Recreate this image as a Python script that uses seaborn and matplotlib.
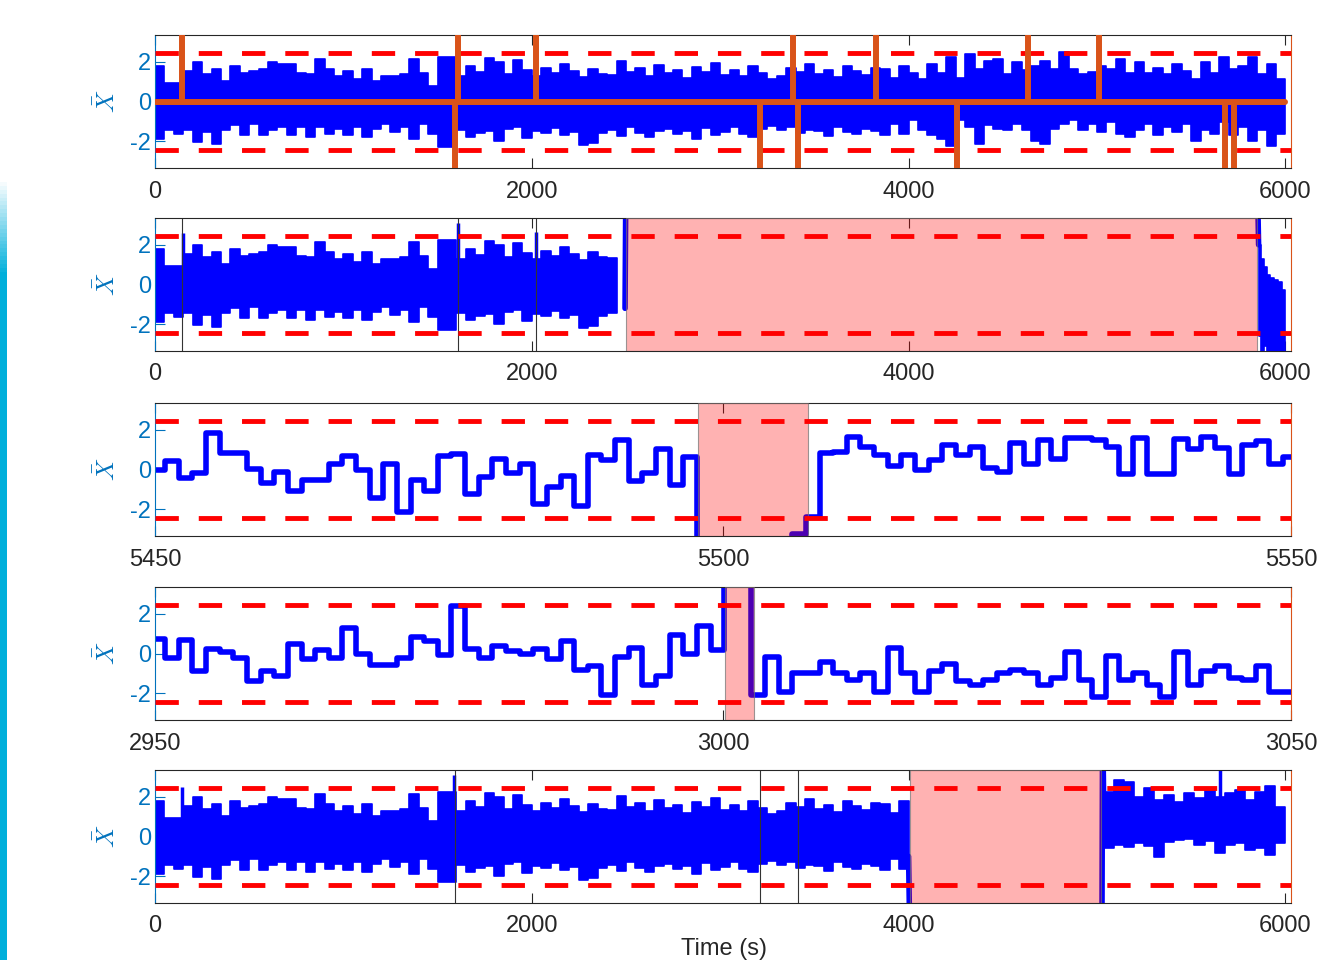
import numpy as np
import matplotlib
matplotlib.use("Agg")
import matplotlib.pyplot as plt
import seaborn as sns

sns.set_theme(style="white")
plt.rcParams["font.family"] = ["Liberation Sans", "DejaVu Sans"]
plt.rcParams["mathtext.fontset"] = "cm"
plt.rcParams["axes.unicode_minus"] = False

BLUE = "#0000FF"
ORANGE = "#D95319"
AXBLUE = "#0072BD"
DARK = "#262626"

# control limits of the monitoring statistic
UCL, LCL = 2.43, -2.43

# ---- long-run statistic (0-6000 s), upper / lower envelope per 50 s bin ----
BIN = 50
env_upper = [
    1.8, 0.94, 0.94, 1.54, 1.97, 1.37, 1.63, 1.03, 1.8, 1.46, 1.54, 1.63, 1.97, 1.88, 1.88, 1.46,
    1.37, 2.14, 1.63, 1.28, 1.54, 1.11, 1.63, 1.03, 1.28, 1.28, 1.37, 2.14, 1.46, 0.77, 2.23, 2.23,
    1.27, 1.78, 1.5, 2.2, 2.0, 1.4, 2.1, 1.6, 1.3, 1.7, 1.45, 1.9, 1.55, 1.25, 1.65, 1.4, 1.35, 2.05,
    1.5, 1.7, 1.3, 1.85, 1.45, 1.6, 1.2, 1.75, 1.5, 1.95, 1.35, 1.6, 1.3, 1.8, 1.45, 1.15, 1.27, 1.7,
    1.5, 1.9, 1.4, 1.6, 1.25, 1.8, 1.55, 1.35, 1.7,
    1.63, 1.2, 1.8, 1.46, 1.11, 1.88, 1.46, 2.23, 1.2, 2.4, 1.63, 2.06, 2.14, 1.37, 1.97, 1.6, 1.8,
    2.06, 1.63, 2.48, 1.63, 1.37, 1.5, 1.8, 1.63, 2.14, 1.46, 1.97, 1.46, 1.71, 1.37, 1.88, 1.54,
    1.11, 1.97, 1.46, 2.23, 1.63, 1.8, 2.23, 1.37, 1.88, 1.11,
]
env_lower = [
    -1.88, -1.46, -1.63, -1.46, -2.05, -1.54, -2.14, -1.46, -1.2, -1.71, -1.11, -1.71, -1.46, -1.28,
    -1.71, -1.28, -1.8, -1.28, -1.63, -1.37, -1.71, -1.28, -1.8, -1.37, -1.11, -1.54, -1.28, -1.88,
    -1.11, -1.63, -2.3, -2.3,
    -1.46, -1.8, -1.6, -1.5, -1.97, -1.4, -1.3, -1.85, -1.5, -1.6, -1.35, -1.7, -1.55, -2.2, -2.1,
    -1.6, -1.45, -1.75, -1.3, -1.6, -1.8, -1.5, -1.4, -1.65, -1.5, -1.9, -1.35, -1.7, -1.55, -1.3,
    -1.65, -1.8, -1.4, -1.25, -1.46, -1.3, -1.6, -1.45, -1.5, -1.75, -1.3, -1.55, -1.65, -1.4, -1.5,
    -1.71, -1.11, -1.63, -0.94, -1.46, -1.71, -1.88, -2.23, -0.94, -1.28, -2.14, -1.2, -1.37, -1.46,
    -1.11, -1.46, -1.97, -2.14, -1.37, -1.11, -0.94, -1.46, -1.11, -1.54, -1.03, -1.63, -1.8, -1.46,
    -1.11, -1.71, -1.28, -1.54, -1.11, -1.97, -1.46, -1.63, -1.03, -1.71, -1.28, -1.97, -1.46, -2.23,
    -1.63,
]

# ---- panel 1: detection flags (up / down) over the full record ----
flag_up_t = [143, 1608, 2025, 3385, 3828, 4635, 5010]
flag_down_t = [1595, 3210, 3415, 4255, 5680, 5725]

# ---- panel 2: attack from 2500 s to 5852 s ----
p2_marks = [143, 1608, 2025]
p2_spike_t = [148, 1610, 2022]
p2_spike_v = [2.6, 3.1, 2.65]
p2_attack = (2498, 5852)
p2_jump_t = [2495, 2500]
p2_jump_v = [-1.2, 6.0]
p2_return_t = [5850, 5858]
p2_return_v = [6.0, 2.0]
p2_tail_edges = [5858, 5870, 5885, 5900, 5920, 5940, 5960, 5980, 6000]
p2_tail_upper = [2.0, 1.3, 0.9, 0.5, 0.35, 0.25, 0.15, -0.3]
p2_tail_lower = [-2.6, -3.6, -3.1, -3.6, -3.5, -3.8, -3.4, -3.6]

# ---- panel 3: close-up 5450-5550 s, one sample every 1.2 s ----
p3_t0, STEP = 5449.7, 1.2
p3_vals = [
    0.0, 0.42, -0.42, -0.2, 1.83, 0.85, 0.85, 0.04, -0.7, -0.13, -1.07, -0.55, -0.52, 0.3, 0.67,
    0.0, -1.46, 0.26, -2.13, -0.52, -1.07, 0.67, 0.77, -1.24, -0.38, 0.52, -0.2, 0.3, -1.75, -0.9,
    -0.35, -1.83, 0.73, 0.47, 1.49, -0.59, -0.16, 1.02, -0.76, 0.64,
    -6.0, -6.0, -6.0, -6.0, -6.0, -6.0, -4.5, -3.25, -2.4,
    0.81, 0.9, 1.66, 1.12, 0.73, 0.16, 0.73, 0.0, 0.47, 1.24, 0.73, 1.15, 0.09, -0.13, 1.32, 0.26,
    1.49, 0.55, 1.58, 1.58, 1.49, 1.12, -0.21, 1.58, -0.25, -0.25, 1.53, 1.02, 1.66, 1.07, -0.21,
    1.24, 1.46, 0.3, 0.64, 0.64,
]
p3_attack = (5497.8, 5507.5)

# ---- panel 4: close-up 2950-3050 s ----
p4_t0 = 2949.7
p4_vals = [
    0.72, -0.21, 0.69, -0.9, 0.21, 0.08, -0.21, -1.41, -0.9, -1.12, 0.47, -0.3, 0.18, -0.21, 1.27,
    -0.04, -0.6, -0.6, -0.21, 0.84, 0.64, -0.09, 2.4, 0.21, -0.21, 0.38, 0.13, -0.04, 0.21, -0.3,
    0.64, -0.81, -0.64, -2.09, -0.18, 0.3, -1.58, -1.12, 0.93, -0.04, 1.41, 0.18,
    6.0, 6.0,
    -2.09, -0.16, -1.92, -0.98, -0.98, -0.44, -0.98, -1.32, -0.98, -1.92, 0.26, -0.98, -1.92, -0.9,
    -0.55, -1.41, -1.58, -1.32, -0.98, -0.84, -0.98, -1.58, -1.24, 0.06, -1.32, -2.2, -0.13, -1.32,
    -0.98, -1.58, -2.2, 0.06, -1.58, -0.9, -0.64, -1.24, -1.32, -0.64, -1.92, -1.92, -0.3,
]
p4_attack = (3000.2, 3002.7)

# ---- panel 5: attack from 4009 s to 5024 s, offset afterwards ----
p5_marks = [1590, 3210, 3415]
p5_spike_t = [145, 1585, 5655]
p5_spike_v = [2.5, 3.1, 4.0]
p5_attack = (4009, 5024)
p5_drop_t = [4000, 4008]
p5_drop_v = [-1.0, -6.0]
p5_rise_t = [5026, 5030, 5035]
p5_rise_v = [-6.0, 6.0, 2.26]
p5_after_upper = [2.26, 2.86, 2.77, 2.0, 2.43, 1.83, 2.09, 1.75, 2.18, 1.92, 2.35, 2.0, 2.18, 2.35,
                  1.83, 2.26, 2.52, 1.49]
p5_after_lower = [-0.6, -0.45, -0.55, -0.35, -0.5, -1.05, -0.3, -0.2, -0.15, -0.45, -0.25, -0.85,
                  -0.45, -0.35, -0.7, -0.6, -0.95, -0.35]

LONG_TICKS = [0, 2000, 4000, 6000]
LONG_LIM = (0, 6030)

edges_all = np.arange(0, len(env_upper) * BIN + 1, BIN)


def band(ax, edges, upper, lower):
    up = list(upper) + [upper[-1]]
    lo = list(lower) + [lower[-1]]
    ax.fill_between(edges, lo, up, step="post", color=BLUE, linewidth=1.2, zorder=2)


def trace(ax, t, v, **kw):
    sns.lineplot(x=t, y=v, ax=ax, color=BLUE, linewidth=4.0, estimator=None, sort=False,
                 legend=False, zorder=2, **kw)


def attack(ax, span):
    ax.axvspan(span[0], span[1], facecolor=(1, 0, 0, 0.3), edgecolor=(0.45, 0.45, 0.45, 0.7),
               linewidth=0.8, zorder=3)


def limits(ax):
    for lvl in (UCL, LCL):
        ax.axhline(lvl, color="red", linewidth=3.5, dashes=(4.8, 4.1), zorder=4)


def style(ax, xticks, xlim):
    ax.set_xlim(*xlim)
    ax.set_ylim(-3.35, 3.35)
    ax.set_xticks(xticks)
    ax.set_xticklabels([str(x) for x in xticks])
    ax.set_yticks([-2, 0, 2])
    ax.set_yticklabels(["-2", "0", "2"])
    ax.tick_params(axis="x", direction="in", length=7, width=0.8, top=True, bottom=True,
                   color=DARK, labelcolor=DARK, labelsize=17, pad=9)
    ax.tick_params(axis="y", direction="in", length=7, width=0.8, left=True, right=False,
                   color=AXBLUE, labelcolor=AXBLUE, labelsize=17, pad=3)
    for side in ("top", "bottom"):
        ax.spines[side].set_color(DARK)
        ax.spines[side].set_linewidth(0.8)
    ax.spines["left"].set_color(AXBLUE)
    ax.spines["right"].set_color(ORANGE)
    ax.spines["left"].set_linewidth(0.8)
    ax.spines["right"].set_linewidth(0.8)
    ax.set_xlabel("")
    ax.set_ylabel(r"$\bar{X}$", color=AXBLUE, fontsize=18)
    ax.yaxis.set_label_coords(-0.032, 0.5)
    ax.set_facecolor("white")


W, H = 1326, 960
fig = plt.figure(figsize=(W / 100, H / 100), dpi=100)
fig.patch.set_facecolor("white")

left_px, width_px = 155, 1136
tops_px = [35, 218, 403, 587, 770]
height_px = 133
axes = [fig.add_axes([left_px / W, 1 - (t + height_px) / H, width_px / W, height_px / H])
        for t in tops_px]

# panel 1: full record with detection flags
ax = axes[0]
band(ax, edges_all, env_upper, env_lower)
limits(ax)
sns.lineplot(x=[0, 6000], y=[0, 0], ax=ax, color=ORANGE, linewidth=4.3, zorder=5, legend=False)
ax.vlines(flag_up_t, 0, 4, color=ORANGE, linewidth=4.3, zorder=5)
ax.vlines(flag_down_t, -4, 0, color=ORANGE, linewidth=4.3, zorder=5)
style(ax, LONG_TICKS, LONG_LIM)

# panel 2
ax = axes[1]
n2 = int(p2_attack[0] // BIN)
band(ax, edges_all[:n2 + 1], env_upper[:n2], env_lower[:n2])
ax.vlines(p2_spike_t, 0, p2_spike_v, color=BLUE, linewidth=2.5, zorder=2)
trace(ax, p2_jump_t, p2_jump_v)
trace(ax, p2_return_t, p2_return_v)
band(ax, p2_tail_edges, p2_tail_upper, p2_tail_lower)
for t in p2_marks:
    ax.axvline(t, color="#333333", linewidth=0.8, zorder=2.5)
attack(ax, p2_attack)
limits(ax)
style(ax, LONG_TICKS, LONG_LIM)

# panel 3: close-up around the end of the attack
ax = axes[2]
t3 = p3_t0 + STEP * np.arange(len(p3_vals))
trace(ax, t3, p3_vals, drawstyle="steps-post")
attack(ax, p3_attack)
limits(ax)
style(ax, [5450, 5500, 5550], (5450, 5550))

# panel 4: close-up around a short attack
ax = axes[3]
t4 = p4_t0 + STEP * np.arange(len(p4_vals))
trace(ax, t4, p4_vals, drawstyle="steps-post")
attack(ax, p4_attack)
limits(ax)
style(ax, [2950, 3000, 3050], (2950, 3050))

# panel 5
ax = axes[4]
n5 = int(4000 // BIN)
band(ax, edges_all[:n5 + 1], env_upper[:n5], env_lower[:n5])
ax.vlines(p5_spike_t, 0, p5_spike_v, color=BLUE, linewidth=2.5, zorder=2)
trace(ax, p5_drop_t, p5_drop_v)
trace(ax, p5_rise_t, p5_rise_v)
after_edges = np.linspace(5035, 6000, len(p5_after_upper) + 1)
band(ax, after_edges, p5_after_upper, p5_after_lower)
for t in p5_marks:
    ax.axvline(t, color="#333333", linewidth=0.8, zorder=2.5)
attack(ax, p5_attack)
limits(ax)
style(ax, LONG_TICKS, LONG_LIM)

fig.text(724 / W, 5 / H, "Time (s)", ha="center", va="baseline", fontsize=17, color=DARK)

# accent strip along the left edge
strip = fig.add_axes([0, 0, 6 / W, (H - 178) / H])
grad = np.ones((200, 1, 4))
grad[..., 0], grad[..., 1], grad[..., 2] = 0.0, 0.69, 0.86
grad[:, 0, 3] = np.clip(np.arange(200) / 24.0, 0, 1)
strip.imshow(grad, aspect="auto", origin="upper", extent=[0, 1, 0, 1])
strip.axis("off")

fig.savefig("out.png", dpi=100, facecolor="white")
